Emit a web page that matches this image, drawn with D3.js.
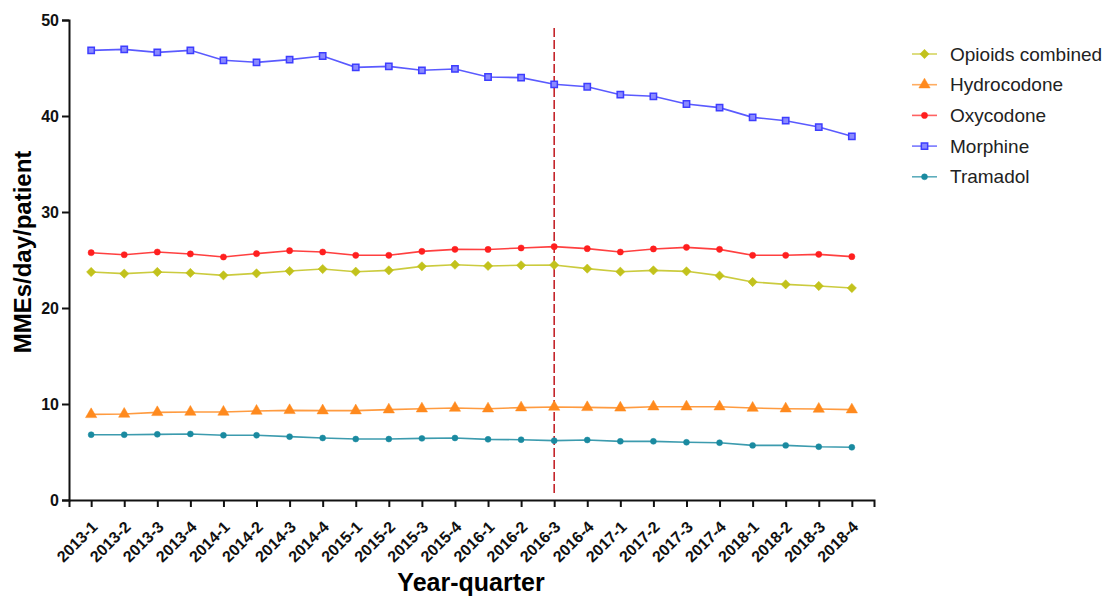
<!DOCTYPE html>
<meta charset="utf-8">
<style>
body { margin: 0; background: #fff; font-family: "Liberation Sans", Arial, sans-serif; }
.axis path, .axis line { fill: none; stroke: #111; stroke-width: 2px; }
.axis text { font-weight: bold; fill: #111; }
.legend text { font-size: 19px; fill: #222; }
</style>
<body>
<script src="https://d3js.org/d3.v7.min.js"></script>
<script>
var quarters = ["2013-1","2013-2","2013-3","2013-4","2014-1","2014-2","2014-3","2014-4",
  "2015-1","2015-2","2015-3","2015-4","2016-1","2016-2","2016-3","2016-4",
  "2017-1","2017-2","2017-3","2017-4","2018-1","2018-2","2018-3","2018-4"];

var opioidsCombined = [23.75,23.58,23.75,23.65,23.4,23.61,23.85,24.06,23.78,23.92,24.34,24.51,
  24.38,24.45,24.48,24.1,23.78,23.92,23.82,23.37,22.71,22.46,22.29,22.08];
var hydrocodone = [8.92,8.96,9.13,9.17,9.17,9.27,9.34,9.31,9.31,9.41,9.51,9.58,
  9.51,9.62,9.69,9.65,9.6,9.72,9.72,9.72,9.58,9.51,9.48,9.41];
var oxycodone = [25.76,25.55,25.83,25.63,25.31,25.66,25.97,25.83,25.49,25.49,25.9,26.11,
  26.1,26.25,26.39,26.18,25.83,26.15,26.32,26.11,25.49,25.49,25.59,25.35];
var morphine = [46.84,46.94,46.63,46.84,45.8,45.59,45.87,46.25,45.07,45.17,44.76,44.9,
  44.06,44.0,43.3,43.05,42.22,42.05,41.25,40.87,39.86,39.51,38.85,37.88];
var tramadol = [6.8,6.8,6.84,6.88,6.74,6.74,6.6,6.46,6.35,6.35,6.42,6.46,
  6.32,6.28,6.18,6.25,6.11,6.11,6.01,5.97,5.69,5.69,5.55,5.49];

var yTicks = [0,10,20,30,40,50];
var markerQuarter = "2016-3";

var series = [
  {name: "Opioids combined", values: opioidsCombined, color: "#c2c21c", symbol: d3.symbolDiamond2, size: 55},
  {name: "Hydrocodone", values: hydrocodone, color: "#ff8a1e", symbol: d3.symbolTriangle, size: 55},
  {name: "Oxycodone", values: oxycodone, color: "#ff1f1f", symbol: d3.symbolCircle, size: 30},
  {name: "Morphine", values: morphine, color: "#3d3dff", symbol: d3.symbolSquare, size: 40},
  {name: "Tramadol", values: tramadol, color: "#1a8aa0", symbol: d3.symbolCircle, size: 28}
];

var margin = {top: 20, right: 233, bottom: 98, left: 69},
    width = 1107 - margin.left - margin.right,
    height = 598 - margin.top - margin.bottom;

var x = d3.scalePoint().domain(quarters).range([0, width]).padding(0.67);
var y = d3.scaleLinear().domain([0, 50]).range([height, 0]);

var svg = d3.select("body").append("svg")
    .attr("width", 1107)
    .attr("height", 598)
  .append("g")
    .attr("transform", "translate(" + margin.left + "," + margin.top + ")");

// x axis
var gx = svg.append("g")
    .attr("class", "x axis")
    .attr("transform", "translate(0," + height + ")")
    .call(d3.axisBottom(x).tickSizeOuter(0).tickSize(7));
gx.selectAll("text")
    .style("font-size", "16px")
    .style("text-anchor", "end")
    .attr("x", 0)
    .attr("y", 0)
    .attr("dy", "0.35em")
    .attr("transform", "translate(3,24) rotate(-45)");

// y axis
var gy = svg.append("g")
    .attr("class", "y axis")
    .call(d3.axisLeft(y).tickValues(yTicks).tickSizeOuter(0).tickSize(7).tickPadding(3));
gy.selectAll("text").style("font-size", "16px");

svg.append("text")
    .attr("x", 471 - margin.left)
    .attr("y", 591 - margin.top)
    .attr("text-anchor", "middle")
    .style("font-size", "25px")
    .style("font-weight", "bold")
    .text("Year-quarter");

svg.append("text")
    .attr("transform", "rotate(-90)")
    .attr("x", -(252 - margin.top))
    .attr("y", 31 - margin.left)
    .attr("text-anchor", "middle")
    .style("font-size", "24px")
    .style("font-weight", "bold")
    .text("MMEs/day/patient");

// vertical reference line
svg.append("line")
    .attr("x1", x(markerQuarter)).attr("x2", x(markerQuarter))
    .attr("y1", 8).attr("y2", height - 5)
    .attr("stroke", "#c0161c")
    .attr("stroke-width", 1.5)
    .attr("stroke-dasharray", "9,3");

var line = d3.line()
    .x(function(d, i) { return x(quarters[i]); })
    .y(function(d) { return y(d); });

series.forEach(function(s) {
  var g = svg.append("g");
  g.append("path")
      .datum(s.values)
      .attr("fill", "none")
      .attr("stroke", s.color)
      .attr("stroke-opacity", 0.85)
      .attr("stroke-width", 1.6)
      .attr("d", line);
  g.selectAll("path.pt")
      .data(s.values)
    .enter().append("path")
      .attr("class", "pt")
      .attr("transform", function(d, i) { return "translate(" + x(quarters[i]) + "," + y(d) + ")"; })
      .attr("d", d3.symbol().type(s.symbol).size(s.size))
      .attr("fill", s.name == "Morphine" ? "#8a8aff" : s.color)
      .attr("stroke", s.color)
      .attr("stroke-width", s.name == "Morphine" ? 1.5 : 0.5);
});

// legend
var legend = svg.selectAll(".legend")
    .data(series)
  .enter().append("g")
    .attr("class", "legend")
    .attr("transform", function(d, i) { return "translate(" + (912 - margin.left) + "," + (54 - margin.top + i * 30.7) + ")"; });

legend.append("line")
    .attr("x1", 0).attr("x2", 25)
    .attr("stroke", function(d) { return d.color; })
    .attr("stroke-opacity", 0.7)
    .attr("stroke-width", 1.6);

legend.append("path")
    .attr("transform", "translate(12.5,0)")
    .attr("d", function(d) { return d3.symbol().type(d.symbol).size(d.size)(); })
    .attr("fill", function(d) { return d.name == "Morphine" ? "#8a8aff" : d.color; })
    .attr("stroke", function(d) { return d.color; })
    .attr("stroke-width", function(d) { return d.name == "Morphine" ? 1.5 : 0.5; });

legend.append("text")
    .attr("x", 38)
    .attr("dy", "0.35em")
    .text(function(d) { return d.name; });
</script>
</body>
</html>
